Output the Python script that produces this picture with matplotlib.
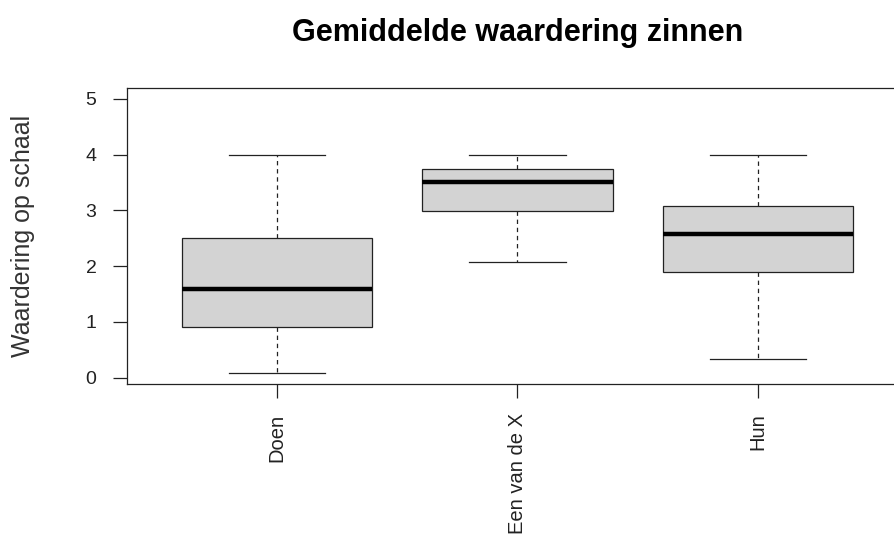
import matplotlib.pyplot as plt

# data
groepen = ['Doen', 'Een van de X', 'Hun']
onder = [0.08, 2.07, 0.34]      # lower whisker
q1 = [0.91, 2.99, 1.90]
mediaan = [1.59, 3.50, 2.58]
q3 = [2.50, 3.74, 3.07]
boven = [4.00, 4.00, 4.00]      # upper whisker

plt.rcParams['font.family'] = ['Liberation Sans', 'DejaVu Sans']

stats = []
for i, g in enumerate(groepen):
    stats.append({'label': g, 'whislo': onder[i], 'q1': q1[i], 'med': mediaan[i],
                  'q3': q3[i], 'whishi': boven[i], 'fliers': []})

fig = plt.figure(figsize=(8.95, 5.37), dpi=100)
ax = fig.add_axes([0.1419, 0.2844, 0.8726, 0.5512])

ax.bxp(stats, positions=[1, 2, 3], widths=0.79, patch_artist=True,
       showfliers=False,
       boxprops=dict(facecolor='#d3d3d3', edgecolor='#222222', linewidth=0.9),
       medianprops=dict(color='black', linewidth=3.2, solid_capstyle='butt'),
       whiskerprops=dict(color='#222222', linewidth=0.9, linestyle=(0, (3.5, 3))),
       capprops=dict(color='#222222', linewidth=0.9),
       capwidths=0.4)

ax.set_xlim(0.378, 3.622)
ax.set_ylim(-0.12, 5.19)
ax.set_yticks([0, 1, 2, 3, 4, 5])
ax.set_xticks([1, 2, 3])
ax.set_xticklabels(groepen, rotation=90)

for s in ax.spines.values():
    s.set_linewidth(0.9)
    s.set_color('#222222')

ax.tick_params(axis='y', length=10, width=0.9, pad=12, labelsize=14, colors='#222222')
ax.tick_params(axis='x', length=10, width=0.9, pad=11, labelsize=14.5, colors='#222222')

ax.set_title('Gemiddelde waardering zinnen', fontsize=22, fontweight='bold', pad=34)
ax.set_ylabel('Waardering op schaal', fontsize=18, color='#333333')
ax.yaxis.set_label_coords(-0.118, 0.5)

fig.savefig('out.png', dpi=100)
